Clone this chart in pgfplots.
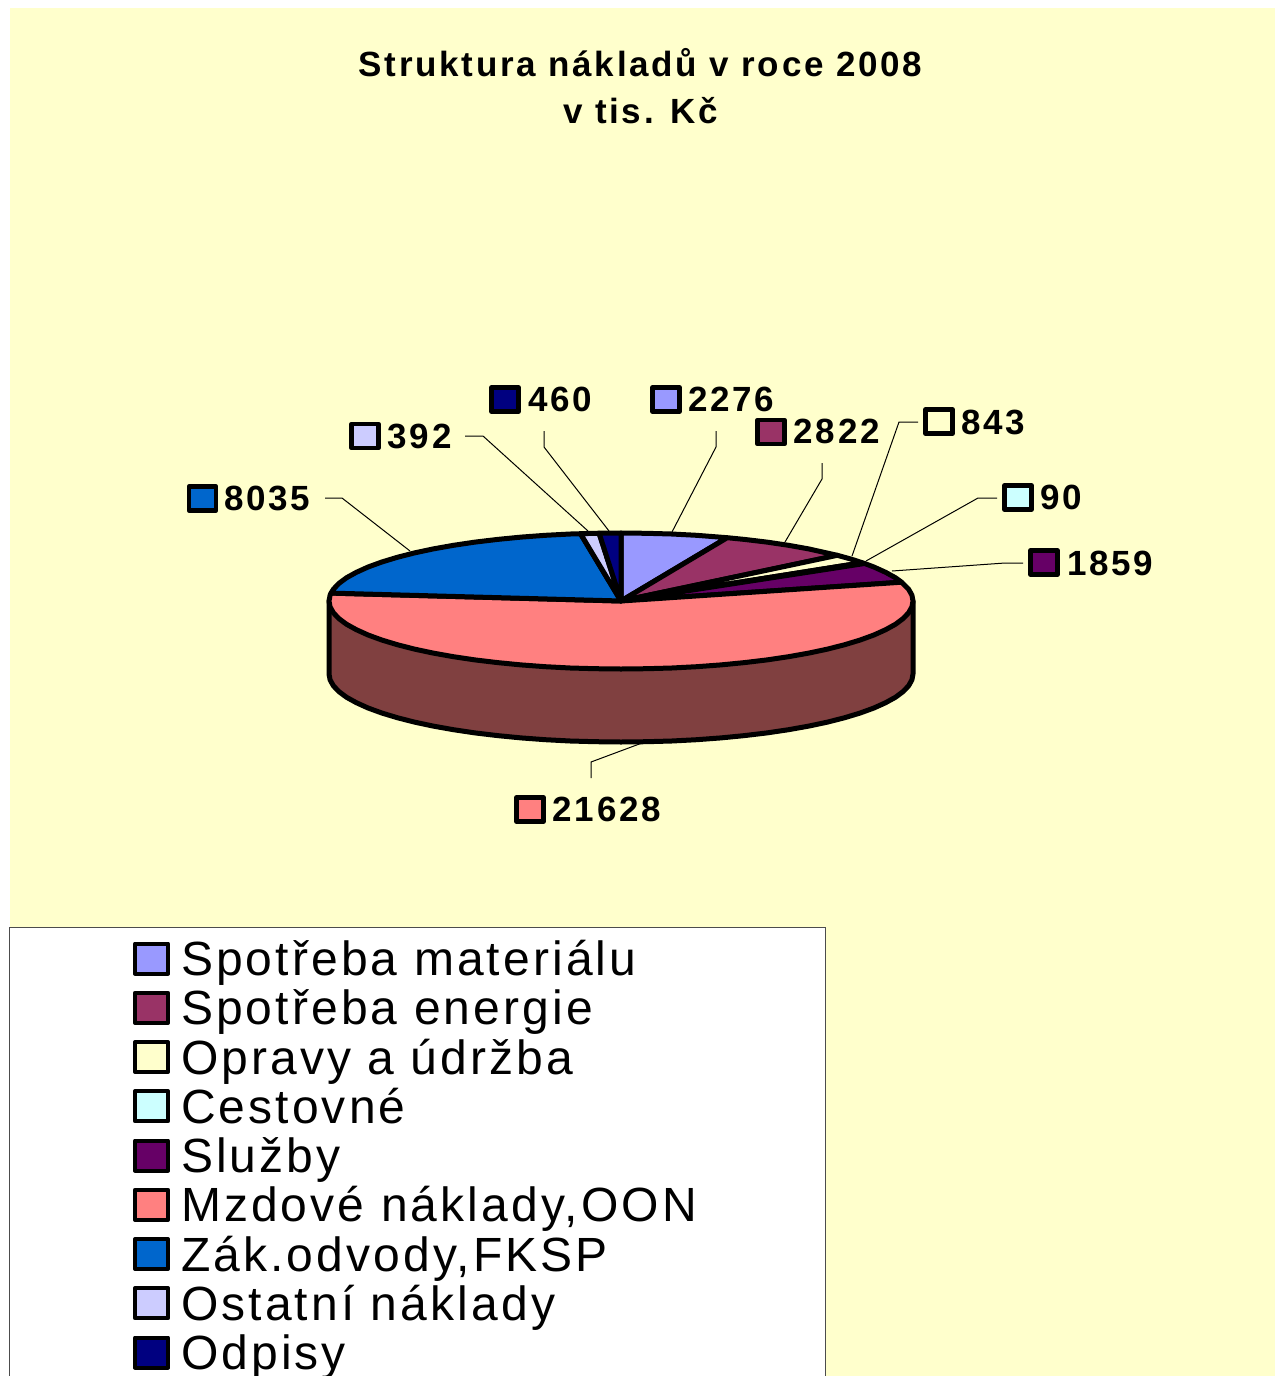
\documentclass[border=0pt]{standalone}
\usepackage{fontspec}
\usepackage{pgfplots}
\pgfplotsset{compat=1.18}
\setmainfont{Liberation Sans}
\newfontfamily\labfont[LetterSpace=8]{Liberation Sans Bold}
\newfontfamily\titfont[LetterSpace=7.8]{Liberation Sans Bold}
\newfontfamily\legfont[LetterSpace=6.5]{Liberation Sans}
\definecolor{bgy}{HTML}{FFFFCC}
\definecolor{c1}{HTML}{9999FF}
\definecolor{c2}{HTML}{993366}
\definecolor{c3}{HTML}{FFFFCC}
\definecolor{c4}{HTML}{CCFFFF}
\definecolor{c5}{HTML}{660066}
\definecolor{c6}{HTML}{FF8080}
\definecolor{c7}{HTML}{0066CC}
\definecolor{c8}{HTML}{CCCCFF}
\definecolor{c9}{HTML}{000080}
\definecolor{wall}{HTML}{804040}
\newcommand{\LF}{\fontsize{48}{49}\selectfont\legfont}
\newcommand{\DF}{\fontsize{35}{47}\selectfont\labfont}
\newcommand{\TF}{\fontsize{35}{47}\selectfont\titfont}
\newcommand{\leg}[1]{\addlegendentry{\makebox[644pt][l]{#1}}}
\begin{document}
\begin{tikzpicture}[x=1pt,y=1pt]
\path[use as bounding box,clip] (0,0) rectangle (1276,1376);
\begin{axis}[
  at={(0,0)},anchor=south west,
  scale only axis,width=1276pt,height=1376pt,
  xmin=0,xmax=1276,ymin=0,ymax=1376,y dir=reverse,
  axis lines=none,clip=false,
  title={Struktura nákladů v roce 2008\\v tis. Kč},
  title style={at={(axis cs:640.5,54.5)},anchor=north,align=center,font=\TF,inner sep=0pt},
  legend image code/.code={%
    \path (-123pt,0pt) (43.5pt,0pt);
    \draw[#1,line width=4pt] (0pt,2pt) rectangle (33pt,32pt);},
  legend style={at={(axis cs:9,927)},anchor=north west,draw=black!70,line width=1pt,
    fill=white,inner xsep=0pt,inner ysep=0pt,font=\LF,row sep=-1.25pt,
    cells={anchor=base west},
    nodes={inner sep=0pt,text height=48pt,text depth=0.25pt}},
  every axis plot/.append style={line join=round},
]
% background
\addplot[fill=bgy,draw=none,forget plot] coordinates {(10,8)(1275,8)(1275,1376)(10,1376)} --cycle;
% side wall of the pie
\addplot[fill=wall,draw=black,line width=5pt,forget plot] coordinates {
(913,601)(913,674)(911.9,679.9)(908.6,685.8)(903.1,691.6)(895.4,697.3)(885.6,702.7)(873.9,708)
(860.2,713)(844.7,717.7)(827.5,722.1)(808.7,726.1)(788.5,729.7)(767,732.9)(744.4,735.6)(720.9,737.9)
(696.6,739.7)(671.7,741)(646.5,741.7)(621,742)(595.5,741.7)(570.3,741)(545.4,739.7)(521.1,737.9)
(497.6,735.6)(475,732.9)(453.5,729.7)(433.3,726.1)(414.5,722.1)(397.3,717.7)(381.8,713)(368.1,708)
(356.4,702.7)(346.6,697.3)(338.9,691.6)(333.4,685.8)(330.1,679.9)(329,674)(329,601)} --cycle;
% top slices
\addplot[fill=c1,draw=black,line width=5pt] coordinates {
(621,601)(621,533)(646.5,533.3)(671.7,534)(696.6,535.3)(727.2,537.7)} --cycle;
\leg{Spotřeba materiálu}
\addplot[fill=c2,draw=black,line width=5pt] coordinates {
(621,601)(727.2,537.7)(744.4,539.4)(767,542.1)(788.5,545.3)(808.7,548.9)(837.3,555.3)} --cycle;
\leg{Spotřeba energie}
\addplot[fill=c3,draw=black,line width=5pt] coordinates {
(621,601)(837.3,555.3)(851.1,559.1)(862.2,562.7)} --cycle;
\leg{Opravy a údržba}
\addplot[fill=c4,draw=black,line width=5pt] coordinates {
(621,601)(862.2,562.7)(864.6,563.5)} --cycle;
\leg{Cestovné}
\addplot[fill=c5,draw=black,line width=5pt] coordinates {
(621,601)(864.6,563.5)(873.9,567)(885.6,572.3)(895.4,577.7)(901.6,582.2)} --cycle;
\leg{Služby}
\addplot[fill=c6,draw=black,line width=5pt] coordinates {
(621,601)(901.6,582.2)(908.6,589.2)(911.9,595.1)(913,601)(911.9,606.9)(908.6,612.8)(903.1,618.6)
(895.4,624.3)(885.6,629.7)(873.9,635)(860.2,640)(844.7,644.7)(827.5,649.1)(808.7,653.1)(788.5,656.7)
(767,659.9)(744.4,662.6)(720.9,664.9)(696.6,666.7)(671.7,668)(646.5,668.7)(621,669)(595.5,668.7)
(570.3,668)(545.4,666.7)(521.1,664.9)(497.6,662.6)(475,659.9)(453.5,656.7)(433.3,653.1)(414.5,649.1)
(397.3,644.7)(381.8,640)(368.1,635)(356.4,629.7)(346.6,624.3)(338.9,618.6)(333.4,612.8)(330.1,606.9)
(329,601)(330.1,595.1)(331,593.1)} --cycle;
\leg{Mzdové náklady,OON}
\addplot[fill=c7,draw=black,line width=5pt] coordinates {
(621,601)(331,593.1)(333.4,589.2)(338.9,583.4)(346.6,577.7)(356.4,572.3)(368.1,567)(381.8,562)
(397.3,557.3)(414.5,552.9)(433.3,548.9)(453.5,545.3)(475,542.1)(497.6,539.4)(521.1,537.1)(545.4,535.3)
(570.3,534)(580.5,533.7)} --cycle;
\leg{Zák.odvody,FKSP}
\addplot[fill=c8,draw=black,line width=5pt] coordinates {
(621,601)(580.5,533.7)(599.1,533.2)} --cycle;
\leg{Ostatní náklady}
\addplot[fill=c9,draw=black,line width=5pt] coordinates {
(621,601)(599.1,533.2)(621,533)} --cycle;
\leg{Odpisy}
% a blank row: the legend box runs past the lower edge of the picture
\addlegendimage{legend image code/.code={}}
\addlegendentry{}
% leader lines
\addplot[black,line width=1pt,forget plot] coordinates {(325,498)(342,498)(410,551)};
\addplot[black,line width=1pt,forget plot] coordinates {(465,436)(483,436)(588,531)};
\addplot[black,line width=1pt,forget plot] coordinates {(544,431)(544,447)(609,531)};
\addplot[black,line width=1pt,forget plot] coordinates {(716,431)(716,447)(672,532)};
\addplot[black,line width=1pt,forget plot] coordinates {(822,463)(822,479)(785,542)};
\addplot[black,line width=1pt,forget plot] coordinates {(918,422)(899,422)(852,556)};
\addplot[black,line width=1pt,forget plot] coordinates {(997,498)(978,498)(866,561)};
\addplot[black,line width=1pt,forget plot] coordinates {(1023,563)(1005,563)(892,571)};
\addplot[black,line width=1pt,forget plot] coordinates {(591,778)(591,762)(642,743)};
% data label keys
\pgfplotsset{keymark/.style={only marks,mark=square*,mark size=12pt,forget plot,
  mark options={fill=#1,draw=black,line width=4.5pt,xscale=1.13}}}
\addplot[keymark=c1] coordinates {(666,399.5)};
\addplot[keymark=c2] coordinates {(771,432)};
\addplot[keymark=c3] coordinates {(939,421.5)};
\addplot[keymark=c4] coordinates {(1018,497.5)};
\addplot[keymark=c5] coordinates {(1044,562.5)};
\addplot[keymark=c6] coordinates {(530,809.5)};
\addplot[keymark=c7] coordinates {(202.5,498.5)};
\addplot[keymark=c8] coordinates {(365,436)};
\addplot[keymark=c9] coordinates {(505,399.5)};
% data labels
\begin{scope}[every node/.style={anchor=base west,inner sep=0pt,font=\DF}]
\node at (axis cs:688,411.5) {2276};
\node at (axis cs:793.5,443) {2822};
\node at (axis cs:961,434) {843};
\node at (axis cs:1040,509) {90};
\node at (axis cs:1067,575) {1859};
\node at (axis cs:552.5,821) {21628};
\node at (axis cs:224,510.5) {8035};
\node at (axis cs:387.5,448) {392};
\node at (axis cs:528,411.5) {460};
\end{scope}
\end{axis}
\end{tikzpicture}
\end{document}
